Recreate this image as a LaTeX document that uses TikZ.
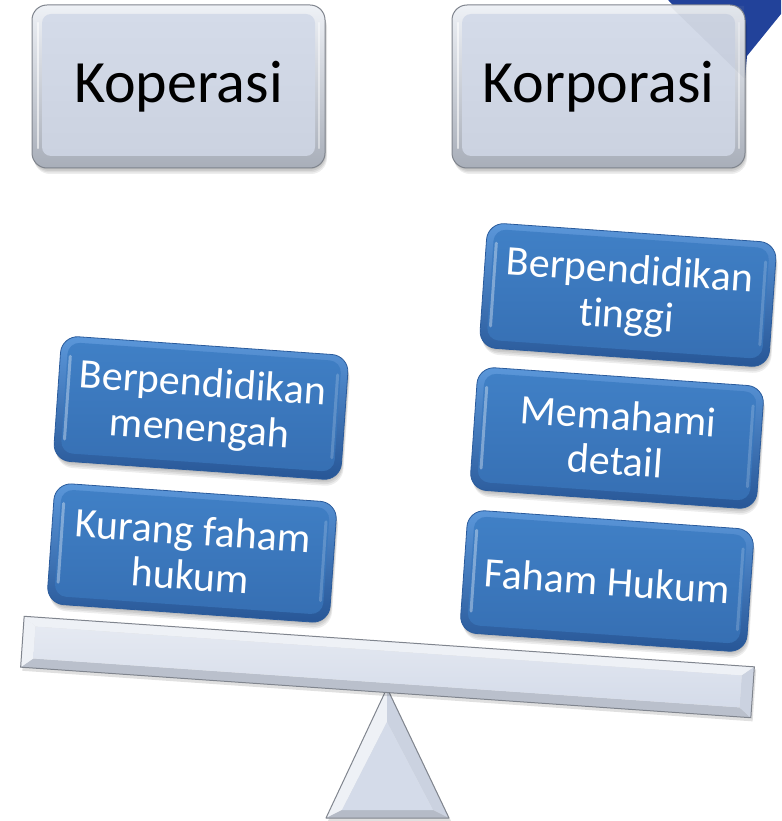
\documentclass[tikz,border=0pt]{standalone}
\usepackage{fontspec}
\setmainfont{Carlito}[Ligatures=NoCommon]
\usetikzlibrary{calc}

\definecolor{cornerblue}{HTML}{22429A}
\definecolor{blueHi}{HTML}{5B97DA}
\definecolor{blueLo}{HTML}{275696}
\definecolor{blueEdge}{HTML}{2A5B9C}
\definecolor{blueFaceA}{HTML}{4080C6}
\definecolor{blueFaceB}{HTML}{366FB3}
\definecolor{greyHi}{HTML}{EEF1F6}
\definecolor{greyLo}{HTML}{A8AEB9}
\definecolor{greyEdge}{HTML}{80858E}
\definecolor{greyFace}{HTML}{D4DBE9}
\definecolor{greyFaceLo}{HTML}{CBD2E0}
\definecolor{greyTint}{HTML}{8E96A6}

\tikzset{
  x=1pt, y=-1pt,
  headtext/.style={text=black, inner sep=0pt, font=\fontsize{60}{72}\selectfont},
  boxtext/.style={text=white, inner sep=0pt, align=center, transform shape,
                  font=\fontsize{42}{45}\selectfont},
  softshadow/.style={fill=black, opacity=0.07},
}

% rounded blue block with bevel, centred at (#2,#3), size #4 x #5, tilted with the beam
\newcommand\BlueBlock[6]{%
  \begin{scope}[shift={(#2,#3)}, rotate=-4]
    \foreach \k in {1,...,4}
      \fill[softshadow, rounded corners=18pt]
        (-#4/2+\k*0.6, -#5/2+\k*1.6) rectangle (#4/2+\k*0.6, #5/2+\k*1.6);
    \shade[rounded corners=17pt, top color=blueHi, bottom color=blueLo,
           draw=blueEdge, line width=0.8pt]
      (-#4/2, -#5/2) rectangle (#4/2, #5/2);
    \shade[rounded corners=12pt, top color=blueFaceA, bottom color=blueFaceB]
      (-#4/2+7, -#5/2+6) rectangle (#4/2-7, #5/2-8);
    \draw[white, opacity=0.35, line width=3pt, line cap=round]
      (-#4/2+10, -#5/2+20) -- (-#4/2+10, #5/2-22);
    \draw[white, opacity=0.18, line width=3pt, line cap=round]
      (#4/2-10, -#5/2+20) -- (#4/2-10, #5/2-22);
    \node[boxtext] (#1) at (0,0) {#6};
  \end{scope}}

% light grey heading block, centred at (#2,#3), size #4 x #5
\newcommand\GreyBlock[6]{%
  \begin{scope}[shift={(#2,#3)}]
    \foreach \k in {1,...,4}
      \fill[softshadow, rounded corners=16pt]
        (-#4/2+\k*0.5, -#5/2+\k*1.5) rectangle (#4/2+\k*0.5, #5/2+\k*1.5);
    \shade[rounded corners=15pt, top color=greyHi, bottom color=greyLo,
           draw=greyEdge, line width=1pt]
      (-#4/2, -#5/2) rectangle (#4/2, #5/2);
    \shade[rounded corners=9pt, top color=greyFace, bottom color=greyFaceLo]
      (-#4/2+10, -#5/2+9) rectangle (#4/2-10, #5/2-12);
    \draw[white, opacity=0.6, line width=2.5pt, line cap=round]
      (-#4/2+6, -#5/2+18) -- (-#4/2+6, #5/2-20);
    \draw[white, opacity=0.45, line width=2.5pt, line cap=round]
      (#4/2-6, -#5/2+18) -- (#4/2-6, #5/2-20);
    \node[headtext, anchor=base] (#1) at (0,16.5) {#6};
  \end{scope}}

\begin{document}
\begin{tikzpicture}
  \useasboundingbox (0,0) rectangle (781,821);

  % dark blue corner shape behind the right heading
  \fill[cornerblue] (668,0) -- (781,0) -- (781,14) -- (747,56) -- (745,78) -- cycle;

  % headings
  \GreyBlock{koperasi}{178.5}{86.5}{293}{163}{Koperasi}
  \GreyBlock{korporasi}{598.5}{86.5}{293}{163}{Korporasi}
  \fill[greyTint, opacity=0.12] (670,6) -- (744,6) -- (744,78) -- cycle;

  % fulcrum
  \begin{scope}
    \coordinate (ta) at (387,688);
    \coordinate (tl) at (326,818);
    \coordinate (tr) at (449,818);
    \coordinate (ia) at (387,722);
    \coordinate (il) at (342,810);
    \coordinate (ir) at (433,810);
    \fill[black, opacity=0.12] ($(tl)+(2,3)$) -- ($(ta)+(2,3)$) -- ($(tr)+(2,3)$) -- cycle;
    \fill[greyHi] (tl) -- (ta) -- (ia) -- (il) -- cycle;
    \fill[greyFaceLo] (ta) -- (tr) -- (ir) -- (ia) -- cycle;
    \fill[greyLo!70!greyFace] (tl) -- (il) -- (ir) -- (tr) -- cycle;
    \fill[greyFace] (ia) -- (il) -- (ir) -- cycle;
    \draw[greyEdge, line width=1pt, line join=round] (tl) -- (ta) -- (tr) -- cycle;
  \end{scope}

  % beam
  \begin{scope}[shift={(387.5,667)}, rotate=-3.96]
    \fill[black, opacity=0.12] (-364,-23) rectangle (368,29);
    \coordinate (b1) at (-366,-25.5);
    \coordinate (b2) at (366,-25.5);
    \coordinate (b3) at (366,25.5);
    \coordinate (b4) at (-366,25.5);
    \coordinate (c1) at (-354,-16);
    \coordinate (c2) at (354,-16);
    \coordinate (c3) at (354,16);
    \coordinate (c4) at (-354,16);
    \fill[greyHi] (b1) -- (b2) -- (c2) -- (c1) -- cycle;
    \fill[greyLo!60!greyFace] (b4) -- (b3) -- (c3) -- (c4) -- cycle;
    \fill[white!60!greyFace] (b1) -- (c1) -- (c4) -- (b4) -- cycle;
    \fill[greyFaceLo] (b2) -- (b3) -- (c3) -- (c2) -- cycle;
    \shade[top color=greyFace!60!white, bottom color=greyFace] (c1) rectangle (c3);
    \draw[greyEdge, line width=1pt] (b1) rectangle (b3);
  \end{scope}

  % blocks resting on the beam
  \BlueBlock{mid}{201}{408}{288}{125}{Berpendidikan\\menengah}
  \BlueBlock{law}{192}{553}{283}{121}{Kurang faham\\hukum}
  \BlueBlock{high}{628}{295}{290}{125}{Berpendidikan\\tinggi}
  \BlueBlock{detail}{617}{438}{287}{123}{Memahami\\detail}
  \BlueBlock{lawok}{607}{581}{287}{123}{Faham Hukum}
\end{tikzpicture}
\end{document}
